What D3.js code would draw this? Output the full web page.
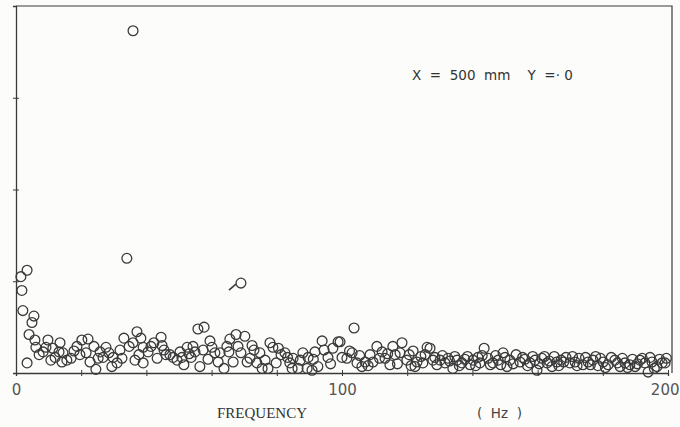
<!DOCTYPE html>
<html>
<head>
<meta charset="utf-8">
<script src="https://cdn.jsdelivr.net/npm/d3@7"></script>
<style>
  body { margin: 0; background: #fcfcfa; }
  svg { display: block; }
</style>
</head>
<body>
<script>
// frequency (Hz) of each measured point
const freq = [
  35.9, 1.5, 3.4, 1.8, 2.1, 5.5, 4.9, 4.0, 3.4, 5.8, 6.1, 7.1, 9.8, 9.2, 8.3, 10.7, 12.0, 13.5, 13.2, 14.4,
  15.6, 14.1, 16.9, 18.7, 20.2, 22.1, 21.5, 19.6, 22.7, 23.9, 24.5, 25.8, 25.2, 27.6, 26.7, 29.4, 29.8, 31.0, 31.9, 33.1,
  34.0, 34.7, 35.9, 37.1, 36.5, 37.7, 39.0, 39.0, 40.5, 41.4, 42.3, 43.3, 44.5, 44.8, 46.0, 47.2, 48.2, 49.4, 50.3, 50.9,
  51.5, 52.5, 53.7, 54.3, 54.9, 55.8, 56.4, 57.7, 57.4, 58.9, 60.1, 61.0, 62.0, 62.6, 63.8, 64.7, 65.6, 65.3, 66.6, 67.5,
  68.1, 69.0, 70.2, 69.0, 70.9, 71.8, 73.0, 73.9, 74.8, 75.5, 76.4, 77.9, 78.8, 77.3, 79.8, 81.3, 82.5, 84.0, 85.0, 84.7,
  86.5, 88.0, 89.3, 89.6, 90.8, 91.7, 92.6, 93.9, 94.5, 95.7, 97.2, 98.8, 99.4, 103.7, 100.0, 101.5, 103.1, 104.6, 106.1, 107.1,
  108.6, 109.5, 110.7, 112.3, 113.2, 114.7, 115.6, 116.3, 118.4, 117.8, 119.9, 121.2, 121.8, 123.0, 124.2, 124.8, 126.1, 127.0, 127.9, 129.1,
  130.1, 131.6, 132.5, 134.0, 135.3, 136.8, 137.7, 139.3, 140.2, 141.7, 142.3, 143.6, 144.8, 146.3, 147.9, 149.4, 150.6, 151.5, 153.4, 154.6,
  156.1, 157.7, 159.2, 159.8, 161.3, 162.9, 164.4, 165.9, 167.2, 168.7, 169.9, 171.5, 172.7, 173.9, 175.5, 177.0, 178.5, 180.1, 181.6, 183.7,
  185.3, 186.8, 188.3, 189.9, 191.4, 192.9, 193.9, 195.1, 196.6, 198.2, 199.1,
  11.3, 17.8, 28.5, 32.5, 38.3, 45.4, 53.1, 59.5, 72.4, 80.5, 83.3, 87.2, 91.2, 96.5,
  102.3, 105.4, 108.0, 111.5, 114.0, 117.0, 120.6, 122.4, 125.5,
  128.5, 130.8, 133.0, 134.6, 136.0, 138.5, 141.0, 143.0, 145.5, 147.1, 148.7, 150.0, 152.5, 155.4, 156.9, 158.5, 160.5, 162.1, 163.6, 165.1,
  166.5, 168.0, 170.7, 172.1, 174.7, 176.2, 177.8, 179.3, 180.8, 182.6, 184.5, 186.0, 187.6, 189.1, 190.6, 192.1, 194.5, 195.8, 197.4, 199.5
];

// amplitude (arbitrary units, axis 0..4)
const amp = [
  3.73, 1.05, 1.12, 0.90, 0.68, 0.62, 0.55, 0.42, 0.11, 0.36, 0.28, 0.20, 0.36, 0.28, 0.23, 0.14, 0.17, 0.33, 0.23, 0.22,
  0.14, 0.12, 0.16, 0.29, 0.36, 0.37, 0.22, 0.20, 0.12, 0.29, 0.04, 0.23, 0.16, 0.28, 0.17, 0.07, 0.17, 0.11, 0.25, 0.38,
  1.25, 0.29, 0.33, 0.45, 0.14, 0.20, 0.11, 0.28, 0.23, 0.29, 0.33, 0.16, 0.39, 0.30, 0.20, 0.20, 0.17, 0.14, 0.23, 0.17,
  0.09, 0.28, 0.17, 0.29, 0.23, 0.48, 0.07, 0.50, 0.25, 0.15, 0.28, 0.22, 0.12, 0.22, 0.05, 0.29, 0.37, 0.23, 0.12, 0.42,
  0.29, 0.98, 0.40, 0.22, 0.12, 0.16, 0.25, 0.11, 0.22, 0.05, 0.14, 0.33, 0.28, 0.05, 0.11, 0.20, 0.22, 0.11, 0.16, 0.05,
  0.05, 0.22, 0.05, 0.17, 0.03, 0.23, 0.07, 0.35, 0.25, 0.17, 0.27, 0.34, 0.34, 0.49, 0.17, 0.16, 0.22, 0.11, 0.07, 0.12,
  0.20, 0.12, 0.29, 0.23, 0.16, 0.09, 0.29, 0.20, 0.33, 0.22, 0.14, 0.08, 0.24, 0.12, 0.18, 0.11, 0.28, 0.27, 0.14, 0.09,
  0.14, 0.11, 0.16, 0.05, 0.14, 0.11, 0.15, 0.09, 0.14, 0.17, 0.11, 0.27, 0.16, 0.11, 0.14, 0.22, 0.07, 0.14, 0.20, 0.12,
  0.15, 0.11, 0.14, 0.03, 0.16, 0.11, 0.07, 0.12, 0.14, 0.17, 0.11, 0.12, 0.16, 0.09, 0.12, 0.14, 0.08, 0.12, 0.09, 0.14,
  0.07, 0.11, 0.09, 0.07, 0.14, 0.11, 0.01, 0.12, 0.07, 0.11, 0.11,
  0.27, 0.24, 0.22, 0.16, 0.38, 0.25, 0.21, 0.35, 0.30, 0.27, 0.17, 0.14, 0.15, 0.10,
  0.24, 0.19, 0.08, 0.16, 0.21, 0.10, 0.20, 0.07, 0.20,
  0.17, 0.19, 0.13, 0.18, 0.08, 0.18, 0.08, 0.19, 0.09, 0.19, 0.09, 0.17, 0.10, 0.17, 0.08, 0.18, 0.10, 0.18, 0.13, 0.18,
  0.08, 0.12, 0.18, 0.08, 0.17, 0.09, 0.18, 0.16, 0.06, 0.17, 0.11, 0.16, 0.06, 0.15, 0.10, 0.16, 0.17, 0.05, 0.15, 0.16
];

const xTicks = [0, 20, 40, 60, 80, 100, 120, 140, 160, 180, 200];
const xLabels = [0, 100, 200];
const yTicks = [1, 2, 3];
const noteText = 'X  =  500  mm    Y  =\u00b7 0';

const W = 680, H = 427;
const plot = { left: 16, right: 668, top: 6, bottom: 373 };
const ink = '#3a3a3a';

const svg = d3.select('body').append('svg')
  .attr('width', W)
  .attr('height', H);

const x = d3.scaleLinear().domain([0, 200]).range([plot.left, plot.right]);
const y = d3.scaleLinear().domain([0, 4]).range([plot.bottom, plot.top]);

// frame: top and right borders
svg.append('path')
  .attr('d', `M${plot.left},${plot.top}H${plot.right + 4}V${plot.bottom}`)
  .attr('fill', 'none')
  .attr('stroke', ink)
  .attr('stroke-width', 1.2);

// x axis, ticks crossing the line
const xAxis = svg.append('g')
  .attr('transform', `translate(0,${plot.bottom})`)
  .call(d3.axisBottom(x)
    .tickValues(xTicks)
    .tickSize(3)
    .tickPadding(8)
    .tickFormat(d => xLabels.includes(d) ? d : ''));
xAxis.select('.domain').attr('stroke', ink).attr('stroke-width', 1.3);
xAxis.selectAll('.tick line').attr('y1', -3).attr('stroke', ink);
xAxis.selectAll('.tick text')
  .attr('font-family', '"DejaVu Sans", sans-serif')
  .attr('font-size', 15)
  .attr('fill', '#555');
// last label sits against the right edge as in the scan
xAxis.selectAll('.tick text')
  .filter(d => d === 200)
  .attr('text-anchor', 'end')
  .attr('x', W - 1 - plot.right);

// y axis, unlabelled ticks
const yAxis = svg.append('g')
  .attr('transform', `translate(${plot.left},0)`)
  .call(d3.axisLeft(y).tickValues(yTicks).tickSize(3).tickFormat(''));
yAxis.select('.domain').attr('stroke', ink).attr('stroke-width', 1.3);
yAxis.selectAll('.tick line').attr('x1', 3).attr('x2', -3).attr('stroke', ink);

// points
const pts = freq.map((f, i) => ({ f, a: amp[i] }));
svg.append('g')
  .selectAll('circle')
  .data(pts)
  .join('circle')
  .attr('cx', d => x(d.f))
  .attr('cy', d => y(d.a))
  .attr('r', 4.9)
  .attr('fill', 'none')
  .attr('stroke', ink)
  .attr('stroke-width', 1.3);

// small pen mark next to the 69 Hz point
svg.append('line')
  .attr('x1', x(69) - 12).attr('y1', y(0.98) + 7)
  .attr('x2', x(69) - 5).attr('y2', y(0.98) + 1)
  .attr('stroke', ink)
  .attr('stroke-width', 1.6);

// annotation
svg.append('text')
  .attr('x', 412)
  .attr('y', 80)
  .attr('font-family', '"DejaVu Sans", sans-serif')
  .attr('font-size', 13.5)
  .attr('fill', '#333')
  .style('white-space', 'pre')
  .text(noteText);

// axis titles
svg.append('text')
  .attr('x', 217)
  .attr('y', 418)
  .attr('font-family', '"Liberation Serif", serif')
  .attr('font-size', 15)
  .attr('fill', '#333')
  .text('FREQUENCY');

svg.append('text')
  .attr('x', 477)
  .attr('y', 418)
  .attr('font-family', '"DejaVu Sans", sans-serif')
  .attr('font-size', 13.5)
  .attr('fill', '#444')
  .style('white-space', 'pre')
  .text('(  Hz  )');
</script>
</body>
</html>
